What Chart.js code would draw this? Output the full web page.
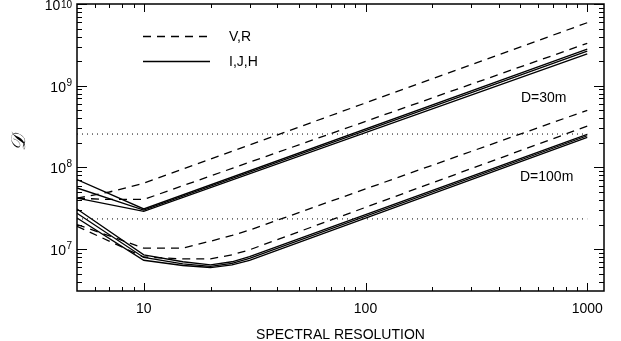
<!DOCTYPE html>
<html>
<head>
<meta charset="utf-8">
<script src="https://cdn.jsdelivr.net/npm/chart.js@4"></script>
<style>
  html, body { margin: 0; padding: 0; background: #fff; }
  canvas { display: block; }
</style>
</head>
<body>
<canvas id="chart" width="621" height="341"></canvas>
<script>
// spectral resolution values where the curves were read
const R = [5, 7, 10, 15, 20, 25, 30, 1000];

// D = 30m
const V30 = [4.2e7, 5.0e7, 6.4e7, null, null, null, null, 5.9e9];
const R30 = [4.2e7, 4.05e7, 4.05e7, null, null, null, null, 3.3e9];
const I30 = [7.1e7, null, 3.1e7, null, null, null, null, 2.8e9];
const J30 = [5.6e7, null, 3.0e7, null, null, null, null, 2.65e9];
const H30 = [4.2e7, null, 2.9e7, null, null, null, null, 2.45e9];

// D = 100m
const V100 = [2.0e7, null, 1.03e7, 1.03e7, 1.25e7, 1.47e7, 1.71e7, 5.0e8];
const R100 = [1.9e7, null, 8.0e6, 7.6e6, 7.6e6, 8.5e6, 9.8e6, 3.2e8];
const I100 = [3.1e7, null, 8.5e6, 7.0e6, 6.4e6, 7.0e6, 8.1e6, 2.54e8];
const J100 = [2.75e7, null, 7.9e6, 6.6e6, 6.15e6, 6.7e6, 7.7e6, 2.44e8];
const H100 = [2.4e7, null, 7.3e6, 6.3e6, 5.95e6, 6.4e6, 7.3e6, 2.33e8];

// dotted reference levels
const LEVEL_R = [5, 1000];
const LEVEL_30 = [2.56e8, 2.56e8];
const LEVEL_100 = [2.34e7, 2.34e7];

// axis ticks
const X_MAJOR = [10, 100, 1000];
const Y_DECADES = [7, 8, 9, 10];

const FONT = '"Liberation Sans", Arial, sans-serif';

function pts(xs, ys) {
    return xs.map((x, i) => ({ x: x, y: ys[i] })).filter(p => p.y !== null);
}

function series(vals, dash) {
    return {
        data: pts(R, vals),
        borderColor: '#000',
        borderWidth: 1.3,
        borderDash: dash,
        pointRadius: 0,
        tension: 0,
        fill: false
    };
}

const DASH = [8, 6];

const frame = {
    id: 'frame',
    afterDraw(chart) {
        const ctx = chart.ctx;
        const a = chart.chartArea;
        const xs = chart.scales.x;
        const ys = chart.scales.y;
        ctx.save();
        ctx.strokeStyle = '#000';
        ctx.fillStyle = '#000';

        function seg(x1, y1, x2, y2) {
            ctx.beginPath();
            ctx.moveTo(x1, y1);
            ctx.lineTo(x2, y2);
            ctx.stroke();
        }

        // box
        ctx.lineWidth = 1.5;
        ctx.strokeRect(a.left, a.top, a.right - a.left, a.bottom - a.top);

        // x ticks (inward, both bottom and top)
        ctx.lineWidth = 1;
        for (let d = 1; d <= 1000; d *= 10) {
            for (let m = 1; m < 10; m++) {
                const v = d * m;
                if (v <= xs.min || v >= xs.max) continue;
                const px = Math.round(xs.getPixelForValue(v)) + 0.5;
                const len = m === 1 ? 8 : 4;
                seg(px, a.bottom, px, a.bottom - len);
                seg(px, a.top, px, a.top + len);
            }
        }
        // y ticks (inward, both left and right)
        for (let e = 6; e <= 10; e++) {
            for (let m = 1; m < 10; m++) {
                const v = m * Math.pow(10, e);
                if (v < ys.min || v > ys.max) continue;
                const py = Math.round(ys.getPixelForValue(v)) + 0.5;
                const len = m === 1 ? 10 : 5;
                seg(a.left, py, a.left + len, py);
                seg(a.right, py, a.right - len, py);
            }
        }

        // x tick labels
        ctx.font = '14px ' + FONT;
        ctx.textAlign = 'center';
        ctx.textBaseline = 'alphabetic';
        X_MAJOR.forEach(v => {
            ctx.fillText(String(v), xs.getPixelForValue(v), a.bottom + 22);
        });
        ctx.fillText('SPECTRAL RESOLUTION', (a.left + a.right) / 2, 339);

        // y tick labels with superscripts
        Y_DECADES.forEach(e => {
            const py = ys.getPixelForValue(Math.pow(10, e));
            const right = 72;
            ctx.font = '10px ' + FONT;
            const we = ctx.measureText(String(e)).width;
            ctx.textAlign = 'left';
            ctx.fillText(String(e), right - we, Math.max(py, 8));
            ctx.font = '14px ' + FONT;
            ctx.textAlign = 'right';
            ctx.fillText('10', right - we - 0.5, py + 6);
        });

        // y axis title
        ctx.save();
        ctx.translate(20, 143);
        ctx.rotate(-Math.PI / 2);
        ctx.font = 'italic 20px "DejaVu Serif", serif';
        ctx.textAlign = 'center';
        ctx.textBaseline = 'middle';
        ctx.fillText('\u{1D49F}', 0, 0);
        ctx.restore();

        // legend
        ctx.lineWidth = 1.3;
        ctx.setLineDash(DASH);
        seg(143, 36.5, 210, 36.5);
        ctx.setLineDash([]);
        seg(143, 61.5, 210, 61.5);
        ctx.font = '14px ' + FONT;
        ctx.textAlign = 'left';
        ctx.fillText('V,R', 229, 41);
        ctx.fillText('I,J,H', 229, 66);

        // telescope labels
        ctx.fillText('D=30m', 521, 102);
        ctx.fillText('D=100m', 520, 181);

        ctx.restore();
    }
};

new Chart(document.getElementById('chart'), {
    type: 'line',
    data: {
        datasets: [
            series(V30, DASH),
            series(R30, DASH),
            series(I30, []),
            series(J30, []),
            series(H30, []),
            series(V100, DASH),
            series(R100, DASH),
            series(I100, []),
            series(J100, []),
            series(H100, []),
            {
                data: pts(LEVEL_R, LEVEL_30),
                borderColor: '#000', borderWidth: 1, borderDash: [1, 4],
                pointRadius: 0, fill: false
            },
            {
                data: pts(LEVEL_R, LEVEL_100),
                borderColor: '#000', borderWidth: 1, borderDash: [1, 4],
                pointRadius: 0, fill: false
            }
        ]
    },
    options: {
        responsive: false,
        animation: false,
        devicePixelRatio: 1,
        layout: { padding: { top: 4, right: 17, left: 0, bottom: 0 } },
        plugins: {
            legend: { display: false },
            tooltip: { enabled: false }
        },
        scales: {
            x: {
                type: 'logarithmic',
                min: 5,
                max: 1190,
                grid: { display: false },
                border: { display: false },
                ticks: { display: false },
                afterFit: s => { s.height = 50; }
            },
            y: {
                type: 'logarithmic',
                min: 3.07e6,
                max: 1e10,
                grid: { display: false },
                border: { display: false },
                ticks: { display: false },
                afterFit: s => { s.width = 77; }
            }
        }
    },
    plugins: [frame]
});
</script>
</body>
</html>
